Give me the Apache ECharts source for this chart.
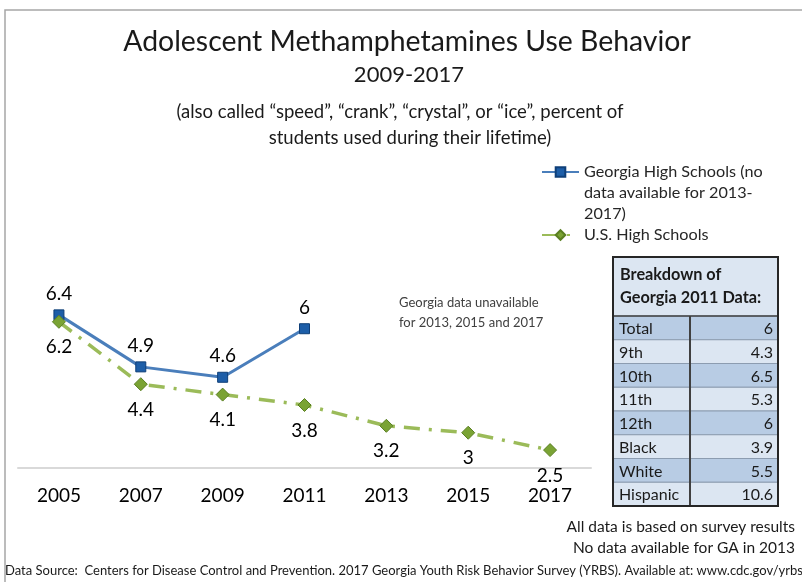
<!DOCTYPE html>
<html>
<head>
<meta charset="utf-8">
<script src="https://cdn.jsdelivr.net/npm/echarts@6/dist/echarts.min.js"></script>
<style>
html,body{margin:0;padding:0;background:#fff;}
#chart{width:802px;height:582px;}
</style>
</head>
<body>
<div id="chart"></div>
<script>
const years = ['2005','2007','2009','2011','2013','2015','2017'];
const georgiaName = 'Georgia High Schools (no\ndata available for 2013-\n2017)';
const usName = 'U.S. High Schools';
const georgiaValues = [6.4, 4.9, 4.6, 6, null, null, null];
const usValues = [6.2, 4.4, 4.1, 3.8, 3.2, 3, 2.5];
const breakdownLabels = ['Total','9th','10th','11th','12th','Black','White','Hispanic'];
const breakdownValues = ['6','4.3','6.5','5.3','6','3.9','5.5','10.6'];

const FONT = 'Lato';
const chart = echarts.init(document.getElementById('chart'), null, {renderer:'canvas'});

// table graphics
const tX = 613, tY = 257, tW = 165, headH = 59, rowH = 23.75, colX = 690;
const tableEls = [];
tableEls.push({type:'rect', shape:{x:tX, y:tY, width:tW, height:headH}, style:{fill:'#dce6f2'}});
tableEls.push({type:'text', style:{x:tX+7, y:tY+18, text:'Breakdown of', font:'bold 16.3px '+FONT, fill:'#1a1a1a', verticalAlign:'middle'}});
tableEls.push({type:'text', style:{x:tX+7, y:tY+41, text:'Georgia 2011 Data:', font:'bold 16.3px '+FONT, fill:'#1a1a1a', verticalAlign:'middle'}});
breakdownLabels.forEach((lab, i) => {
  const y = tY + headH + i*rowH;
  tableEls.push({type:'rect', shape:{x:tX, y:y, width:tW, height:rowH}, style:{fill: i%2===0 ? '#b8cce4' : '#dce6f2', stroke:'#8c9cb0', lineWidth:1}});
  tableEls.push({type:'text', style:{x:tX+6, y:y+rowH/2+1, text:lab, font:'16px '+FONT, fill:'#1a1a1a', verticalAlign:'middle'}});
  tableEls.push({type:'text', style:{x:tX+tW-5, y:y+rowH/2+1, text:breakdownValues[i], font:'16px '+FONT, fill:'#1a1a1a', verticalAlign:'middle', align:'right'}});
});
const tH = headH + breakdownLabels.length*rowH;
tableEls.push({type:'line', shape:{x1:colX, y1:tY+headH, x2:colX, y2:tY+tH}, style:{stroke:'#404040', lineWidth:2}});
tableEls.push({type:'line', shape:{x1:tX, y1:tY+headH, x2:tX+tW, y2:tY+headH}, style:{stroke:'#404040', lineWidth:1.5}});
tableEls.push({type:'rect', shape:{x:tX, y:tY, width:tW, height:tH}, style:{fill:'none', stroke:'#262626', lineWidth:2}});

const option = {
  backgroundColor:'#ffffff',
  animation:false,
  textStyle:{fontFamily:FONT},
  title:[
    {text:'Adolescent Methamphetamines Use Behavior', left:407, top:25, textAlign:'center', padding:0,
     textStyle:{fontFamily:FONT, fontSize:28.4, fontWeight:'normal', color:'#1a1a1a', lineHeight:34}},
    {text:'2009-2017', left:409, top:63, textAlign:'center', padding:0,
     textStyle:{fontFamily:FONT, fontSize:22, fontWeight:'normal', color:'#1a1a1a', lineHeight:24}},
    {text:'(also called “speed”, “crank”, “crystal”, or “ice”, percent of', left:400, top:101, textAlign:'center', padding:0,
     textStyle:{fontFamily:FONT, fontSize:18.5, fontWeight:'normal', color:'#1a1a1a', lineHeight:22}},
    {text:'students used during their lifetime)', left:410, top:127, textAlign:'center', padding:0,
     textStyle:{fontFamily:FONT, fontSize:18.5, fontWeight:'normal', color:'#1a1a1a', lineHeight:22}}
  ],
  legend:[
    {data:[georgiaName], left:541, top:119.5, padding:0, itemWidth:37, itemHeight:12, itemGap:5,
     formatter: name => '\n\n' + name,
     textStyle:{fontFamily:FONT, fontSize:16.2, color:'#262626', lineHeight:21}},
    {data:[usName], left:541, top:225, padding:0, itemWidth:37, itemHeight:12,
     textStyle:{fontFamily:FONT, fontSize:16.2, color:'#262626', lineHeight:20}}
  ],
  grid:{left:18, right:211, top:259.4, bottom:114.6, containLabel:false},
  xAxis:{type:'category', data:years, boundaryGap:true,
    axisLine:{lineStyle:{color:'#d9d9d9', width:2}}, axisTick:{show:false},
    axisLabel:{fontFamily:FONT, fontSize:19, color:'#000', margin:19}},
  yAxis:{type:'value', min:2, max:8, show:false, splitLine:{show:false}},
  series:[
    {name:georgiaName, type:'line', data:georgiaValues, symbol:'rect', symbolSize:10, connectNulls:false,
     lineStyle:{color:'#4a7ebb', width:3}, itemStyle:{color:'#1d5ea8', borderColor:'#0f3f78', borderWidth:1},
     label:{show:true, position:'top', distance:6, fontFamily:FONT, fontSize:19, color:'#000'}, z:2},
    {name:usName, type:'line', data:usValues, symbol:'diamond', symbolSize:13,
     lineStyle:{color:'#9bbb59', width:3.5, type:[16,9,3,9]}, itemStyle:{color:'#7aa334', borderColor:'#5a7f22', borderWidth:1},
     label:{show:true, position:'bottom', distance:9, fontFamily:FONT, fontSize:19, color:'#000'}, z:3}
  ],
  graphic:[
    {type:'rect', silent:true, shape:{x:5, y:10, width:900, height:700}, style:{fill:'none', stroke:'#a6a6a6', lineWidth:1.5}},
    {type:'text', style:{x:399, y:303, text:'Georgia data unavailable', font:'13px '+FONT, fill:'#404040', verticalAlign:'middle'}},
    {type:'text', style:{x:399, y:323, text:'for 2013, 2015 and 2017', font:'13px '+FONT, fill:'#404040', verticalAlign:'middle'}},
    {type:'text', style:{x:795, y:527, text:'All data is based on survey results', font:'15.5px '+FONT, fill:'#1a1a1a', verticalAlign:'middle', align:'right'}},
    {type:'text', style:{x:795, y:548, text:'No data available for GA in 2013', font:'15.5px '+FONT, fill:'#1a1a1a', verticalAlign:'middle', align:'right'}},
    {type:'text', style:{x:5, y:571, text:'Data Source:  Centers for Disease Control and Prevention. 2017 Georgia Youth Risk Behavior Survey (YRBS). Available at: www.cdc.gov/yrbs', font:'13px '+FONT, fill:'#1a1a1a', verticalAlign:'middle'}},
    {type:'group', children: tableEls}
  ]
};
chart.setOption(option);
</script>
</body>
</html>
